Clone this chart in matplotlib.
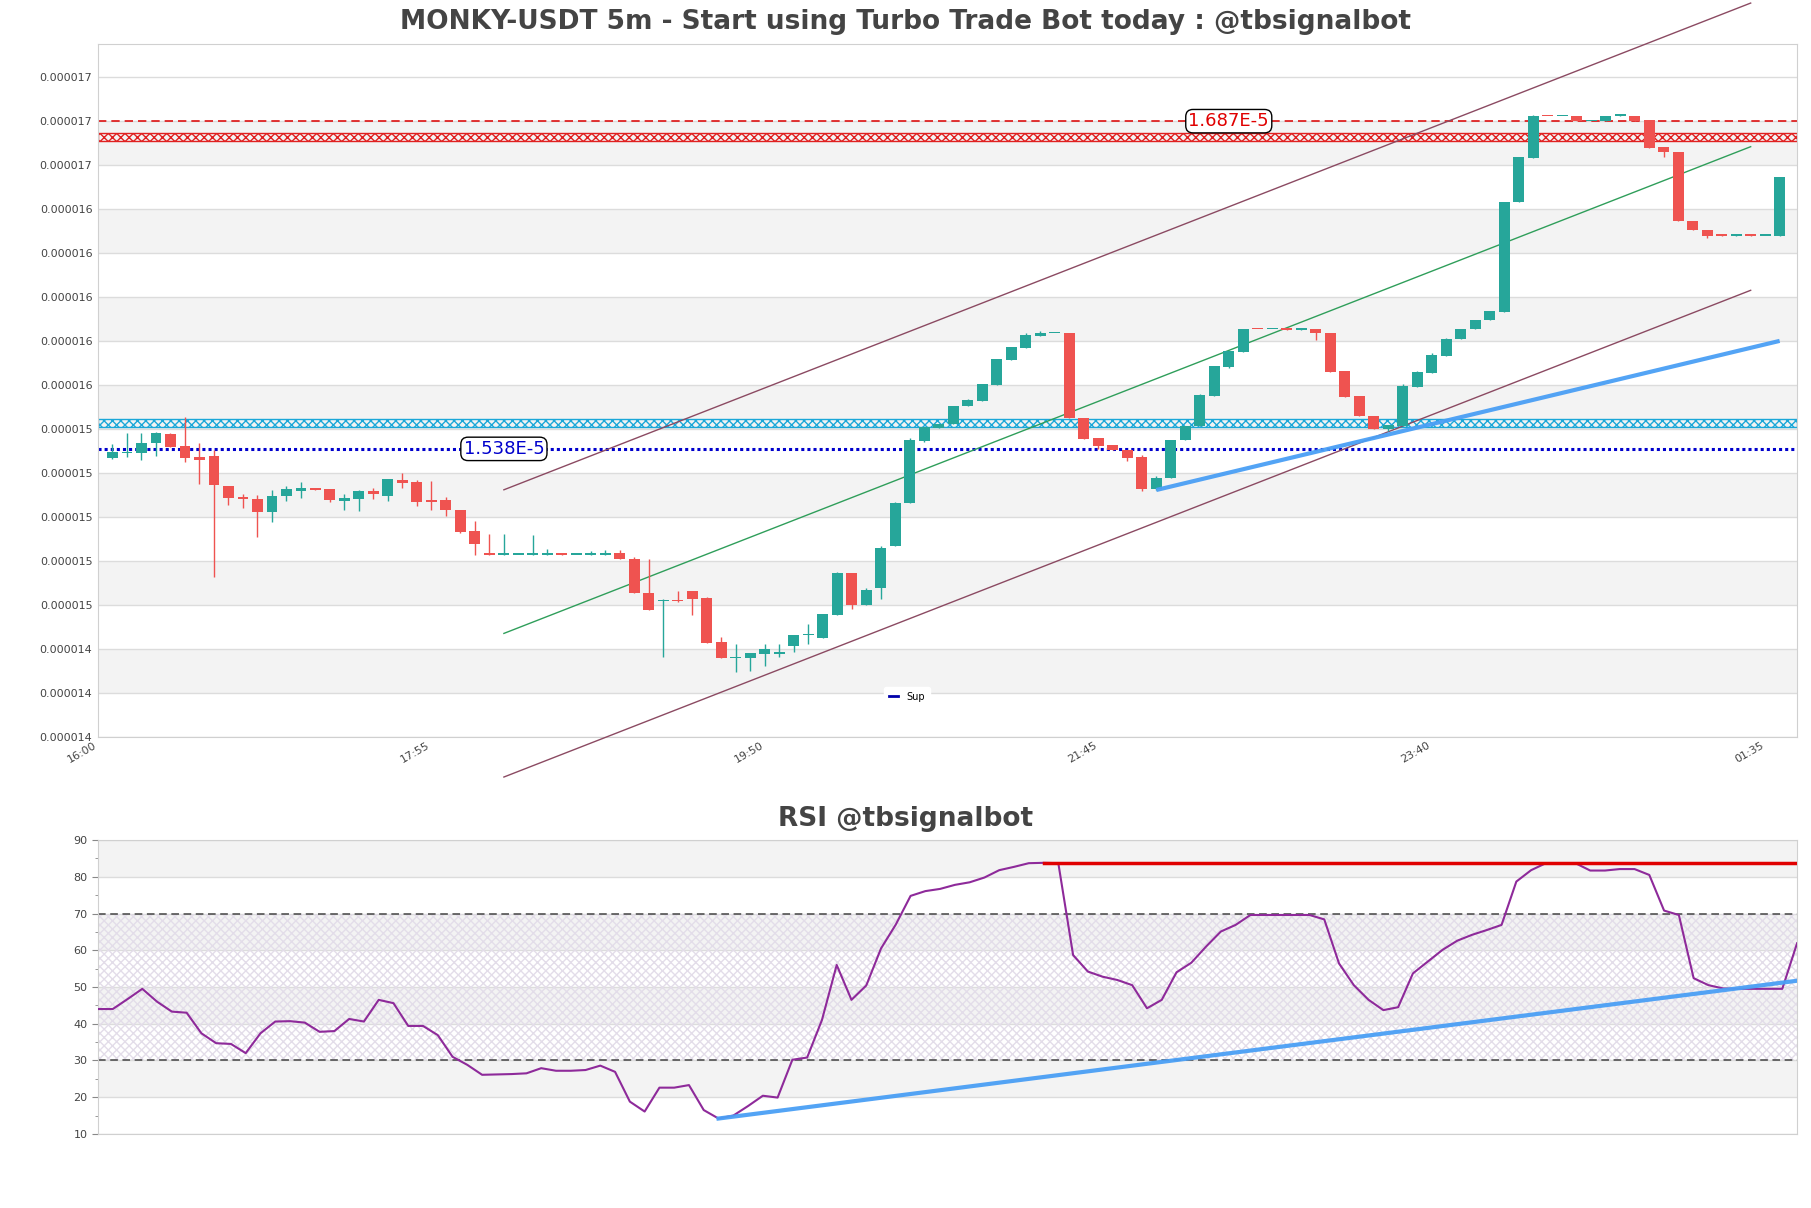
import numpy as np
import matplotlib
matplotlib.use('Agg')
import matplotlib.pyplot as plt
from matplotlib.lines import Line2D

# ローソク足データ (単位: 1e-5 USDT)
opens = [1.5339, 1.5360, 1.5361, 1.5409, 1.5446, 1.5392, 1.5342, 1.5346, 1.5210, 1.5160,
         1.5154, 1.5093, 1.5166, 1.5188, 1.5204, 1.5196, 1.5145, 1.5152, 1.5187, 1.5166,
         1.5240, 1.5228, 1.5146, 1.5146, 1.5104, 1.5005, 1.4901, 1.4899, 1.4899, 1.4899,
         1.4899, 1.4908, 1.4899, 1.4899, 1.4899, 1.4908, 1.4881, 1.4727, 1.4688, 1.4694,
         1.4733, 1.4702, 1.4500, 1.4429, 1.4430, 1.4447, 1.4447, 1.4483, 1.4533, 1.4520,
         1.4624, 1.4815, 1.4668, 1.4747, 1.4938, 1.5136, 1.5416, 1.5477, 1.5495, 1.5575,
         1.5598, 1.5669, 1.5783, 1.5839, 1.5895, 1.5905, 1.5907, 1.5522, 1.5430, 1.5396,
         1.5377, 1.5343, 1.5196, 1.5248, 1.5419, 1.5483, 1.5621, 1.5753, 1.5821, 1.5924,
         1.5923, 1.5923, 1.5922, 1.5923, 1.5905, 1.5733, 1.5619, 1.5530, 1.5472, 1.5483,
         1.5661, 1.5725, 1.5803, 1.5879, 1.5923, 1.5968, 1.6003, 1.6501, 1.6703, 1.6895,
         1.6894, 1.6895, 1.6871, 1.6871, 1.6895, 1.6895, 1.6877, 1.6751, 1.6728, 1.6417,
         1.6377, 1.6351, 1.6350, 1.6351, 1.6350, 1.6350]
highs = [1.5404, 1.5450, 1.5450, 1.5456, 1.5450, 1.5525, 1.5409, 1.5374, 1.5210, 1.5173,
         1.5169, 1.5192, 1.5210, 1.5229, 1.5204, 1.5196, 1.5177, 1.5192, 1.5204, 1.5242,
         1.5272, 1.5240, 1.5233, 1.5161, 1.5104, 1.5051, 1.4995, 1.4995, 1.4899, 1.4987,
         1.4926, 1.4908, 1.4899, 1.4916, 1.4922, 1.4919, 1.4888, 1.4881, 1.4699, 1.4732,
         1.4733, 1.4705, 1.4524, 1.4494, 1.4450, 1.4491, 1.4491, 1.4535, 1.4582, 1.4627,
         1.4820, 1.4815, 1.4749, 1.4938, 1.5138, 1.5430, 1.5480, 1.5495, 1.5577, 1.5606,
         1.5674, 1.5788, 1.5842, 1.5909, 1.5916, 1.5907, 1.5907, 1.5522, 1.5430, 1.5396,
         1.5377, 1.5351, 1.5255, 1.5422, 1.5486, 1.5628, 1.5756, 1.5825, 1.5924, 1.5924,
         1.5923, 1.5923, 1.5923, 1.5923, 1.5905, 1.5733, 1.5619, 1.5530, 1.5487, 1.5674,
         1.5734, 1.5814, 1.5883, 1.5923, 1.5968, 1.6007, 1.6501, 1.6705, 1.6898, 1.6895,
         1.6895, 1.6895, 1.6872, 1.6895, 1.6896, 1.6895, 1.6877, 1.6751, 1.6728, 1.6417,
         1.6377, 1.6351, 1.6351, 1.6351, 1.6350, 1.6614]
lows = [1.5335, 1.5343, 1.5331, 1.5348, 1.5389, 1.5320, 1.5222, 1.4797, 1.5123, 1.5111,
        1.4979, 1.5047, 1.5143, 1.5157, 1.5192, 1.5138, 1.5104, 1.5097, 1.5154, 1.5143,
        1.5202, 1.5120, 1.5104, 1.5075, 1.4997, 1.4899, 1.4899, 1.4899, 1.4899, 1.4899,
        1.4899, 1.4899, 1.4899, 1.4899, 1.4899, 1.4881, 1.4724, 1.4647, 1.4436, 1.4683,
        1.4623, 1.4497, 1.4429, 1.4365, 1.4369, 1.4392, 1.4433, 1.4456, 1.4491, 1.4520,
        1.4624, 1.4651, 1.4668, 1.4696, 1.4938, 1.5136, 1.5411, 1.5477, 1.5495, 1.5575,
        1.5598, 1.5669, 1.5783, 1.5839, 1.5895, 1.5905, 1.5521, 1.5427, 1.5381, 1.5377,
        1.5325, 1.5188, 1.5193, 1.5248, 1.5419, 1.5483, 1.5621, 1.5748, 1.5821, 1.5923,
        1.5923, 1.5922, 1.5922, 1.5877, 1.5730, 1.5616, 1.5530, 1.5472, 1.5461, 1.5483,
        1.5661, 1.5725, 1.5803, 1.5879, 1.5923, 1.5968, 1.6003, 1.6501, 1.6703, 1.6894,
        1.6894, 1.6871, 1.6871, 1.6871, 1.6895, 1.6871, 1.6749, 1.6705, 1.6417, 1.6373,
        1.6340, 1.6350, 1.6350, 1.6350, 1.6350, 1.6350]
closes = [1.5364, 1.5365, 1.5409, 1.5450, 1.5389, 1.5339, 1.5330, 1.5214, 1.5157, 1.5152,
          1.5093, 1.5164, 1.5199, 1.5204, 1.5192, 1.5149, 1.5155, 1.5187, 1.5175, 1.5242,
          1.5227, 1.5138, 1.5138, 1.5104, 1.5002, 1.4949, 1.4899, 1.4900, 1.4899, 1.4899,
          1.4908, 1.4899, 1.4899, 1.4899, 1.4908, 1.4881, 1.4724, 1.4647, 1.4694, 1.4688,
          1.4699, 1.4497, 1.4429, 1.4433, 1.4450, 1.4471, 1.4456, 1.4535, 1.4540, 1.4627,
          1.4815, 1.4668, 1.4737, 1.4931, 1.5134, 1.5419, 1.5480, 1.5495, 1.5577, 1.5601,
          1.5674, 1.5788, 1.5842, 1.5900, 1.5907, 1.5907, 1.5521, 1.5427, 1.5393, 1.5377,
          1.5340, 1.5196, 1.5249, 1.5422, 1.5486, 1.5624, 1.5756, 1.5825, 1.5924, 1.5923,
          1.5923, 1.5922, 1.5923, 1.5905, 1.5730, 1.5616, 1.5530, 1.5472, 1.5487, 1.5665,
          1.5730, 1.5806, 1.5879, 1.5923, 1.5968, 1.6007, 1.6501, 1.6705, 1.6895, 1.6894,
          1.6895, 1.6871, 1.6872, 1.6895, 1.6896, 1.6871, 1.6749, 1.6728, 1.6417, 1.6373,
          1.6350, 1.6350, 1.6351, 1.6350, 1.6350, 1.6614]

# RSI
rsi = [44.0, 44.0, 46.7, 49.5, 46.0, 43.3, 43.0, 37.4, 34.7, 34.5,
       32.0, 37.4, 40.6, 40.7, 40.3, 37.8, 38.0, 41.3, 40.6, 46.5,
       45.6, 39.4, 39.4, 36.9, 31.0, 28.8, 26.1, 26.2, 26.3, 26.5,
       27.9, 27.2, 27.2, 27.4, 28.6, 26.9, 18.8, 16.1, 22.6, 22.6,
       23.3, 16.5, 14.2, 15.0, 17.6, 20.4, 19.9, 30.2, 30.8, 41.0,
       56.0, 46.5, 50.4, 60.5, 67.0, 74.8, 76.1, 76.7, 77.8, 78.5,
       79.8, 81.8, 82.7, 83.7, 83.8, 83.7, 58.7, 54.2, 52.8, 51.9,
       50.5, 44.2, 46.5, 54.0, 56.6, 61.0, 65.1, 66.9, 69.6, 69.6,
       69.6, 69.6, 69.6, 68.4, 56.4, 50.5, 46.5, 43.7, 44.5, 53.7,
       56.9, 60.1, 62.6, 64.2, 65.5, 66.9, 78.7, 81.8, 83.7, 83.7,
       83.7, 81.7, 81.7, 82.1, 82.1, 80.5, 70.8, 69.6, 52.4, 50.5,
       49.6, 49.5, 49.5, 49.5, 49.5, 61.9]

time_ticks = [0, 23, 46, 69, 92, 115]
time_labels = ['16:00', '17:55', '19:50', '21:45', '23:40', '01:35']

# 水平線・ゾーン・トレンドライン (単位: 1e-5)
resist_level = 1.687
support_level = 1.538
red_zone = [1.6780, 1.6814]
cyan_zone = [1.5480, 1.5515]
channel_x = [28, 114]
channel_mid = [1.4541, 1.6754]
channel_width = 0.0653
sup_x = [73, 116]
sup_y = [1.5193, 1.5871]
rsi_sup_x = [42, 115]
rsi_sup_y = [14.2, 51.7]
rsi_res_x = [64, 115]
rsi_res = 83.7

scale = 1e-5
UP = '#26a69a'
DOWN = '#ef5350'
GRID = '#dcdcdc'
BAND = '#f3f3f3'

o = np.array(opens) * scale
h = np.array(highs) * scale
l = np.array(lows) * scale
c = np.array(closes) * scale
x = np.arange(len(o)) + 1

fig = plt.figure(figsize=(18.11, 12.08), dpi=100)

# 価格チャート
ax = fig.add_axes([0.0541, 0.3899, 0.9382, 0.5737])
yt = (1.407 + np.arange(16) * 0.02) * scale
for k in range(1, 15, 2):
    ax.axhspan(yt[k], yt[k + 1], color=BAND, lw=0, zorder=0)
ax.set_yticks(yt)
ax.set_yticklabels(['%.6f' % v for v in yt])
ax.set_ylim(1.407 * scale, 1.7221 * scale)
ax.set_xlim(0, 117.2)
ax.grid(axis='y', color=GRID, lw=1, zorder=0.5)
ax.set_axisbelow(True)

# ゾーン
ax.axhspan(red_zone[0] * scale, red_zone[1] * scale, facecolor='none',
           edgecolor='#e02020', hatch='xxxx', lw=1, zorder=1)
ax.axhspan(cyan_zone[0] * scale, cyan_zone[1] * scale, facecolor='none',
           edgecolor='#1aa7d8', hatch='xxxx', lw=1, zorder=1)

# 水平線
ax.axhline(resist_level * scale, color='#dd1111', ls=(0, (5, 3)), lw=1.2, zorder=2)
ax.axhline(support_level * scale, color='#0000cc', ls=(0, (1, 1)), lw=2.2, zorder=2, label='Sup')
ax.text(78, resist_level * scale, '%.3fE-5' % resist_level, color='#e00000', fontsize=13,
        ha='center', va='center', zorder=6,
        bbox=dict(boxstyle='round,pad=0.15,rounding_size=0.4', fc='white', ec='black', lw=1))
ax.text(28, support_level * scale, '%.3fE-5' % support_level, color='#0000cc', fontsize=13,
        ha='center', va='center', zorder=6,
        bbox=dict(boxstyle='round,pad=0.15,rounding_size=0.4', fc='white', ec='black', lw=1))

# チャネル
mid = np.array(channel_mid) * scale
ax.plot(channel_x, mid, color='#2f9e5a', lw=1, zorder=3)
ax.plot(channel_x, mid + channel_width * scale, color='#8b4a62', lw=1, zorder=3, clip_on=False)
ax.plot(channel_x, mid - channel_width * scale, color='#8b4a62', lw=1, zorder=3, clip_on=False)

# ローソク足
colors = [UP if cc >= oo else DOWN for oo, cc in zip(o, c)]
ax.vlines(x, l, h, colors=colors, lw=1, zorder=4)
body = np.maximum(np.abs(c - o), 0.0006 * scale)
ax.bar(x, body, bottom=np.minimum(o, c), width=0.75, color=colors, lw=0, zorder=4)

# サポートライン
ax.plot(sup_x, np.array(sup_y) * scale, color='#4a9ff5', lw=3, alpha=0.95, zorder=5,
        solid_capstyle='butt')

ax.set_xticks(time_ticks)
ax.set_xticklabels(time_labels, rotation=30, ha='right')
ax.tick_params(axis='both', length=0, labelsize=8, labelcolor='#444444', pad=4)
ax.tick_params(axis='x', pad=2)
for sp in ax.spines.values():
    sp.set_color('#d0d0d0')

ax.legend(handles=[Line2D([], [], color='#0000aa', lw=2)], labels=['Sup'],
          loc='center', bbox_to_anchor=(0.476, 0.058), fontsize=7, frameon=True,
          framealpha=1, edgecolor='white', handlelength=1.0, borderpad=0.5)

# RSI チャート
ax2 = fig.add_axes([0.0541, 0.0613, 0.9382, 0.2433])
xr = np.arange(len(rsi))
for lo in [20, 40, 60, 80]:
    ax2.axhspan(lo, lo + 10, color=BAND, lw=0, zorder=0)
ax2.fill_between([0, len(rsi) - 1], 30, 70, facecolor='none', edgecolor='#e3dde9',
                 hatch='xxxx', lw=0, zorder=0.6)
ax2.set_ylim(10, 90)
ax2.set_xlim(0, len(rsi) - 1)
ax2.set_yticks(range(10, 91, 10))
ax2.set_yticks(range(15, 90, 10), minor=True)
ax2.grid(axis='y', color=GRID, lw=1, zorder=0.5)
ax2.set_axisbelow(True)
ax2.axhline(70, color='#444444', ls=(0, (5, 3)), lw=1.1, zorder=2)
ax2.axhline(30, color='#444444', ls=(0, (5, 3)), lw=1.1, zorder=2)
ax2.plot(xr, rsi, color='#8e2a9a', lw=1.5, zorder=3)
ax2.plot(rsi_res_x, [rsi_res, rsi_res], color='#e00000', lw=2.5, zorder=4)
ax2.plot(rsi_sup_x, rsi_sup_y, color='#4a9ff5', lw=3, alpha=0.95, zorder=4)
ax2.set_xticks([])
ax2.tick_params(axis='y', which='major', length=4, labelsize=8, labelcolor='#444444', color='#888888')
ax2.tick_params(axis='y', which='minor', length=2, color='#888888')
for sp in ax2.spines.values():
    sp.set_color('#d0d0d0')

# タイトル
fig.text(0.5, 0.9818, 'MONKY-USDT 5m - Start using Turbo Trade Bot today : @tbsignalbot',
         ha='center', va='center', fontsize=19, fontweight='bold', color='#444444')
fig.text(0.5, 0.322, 'RSI @tbsignalbot', ha='center', va='center', fontsize=19,
         fontweight='bold', color='#444444')

fig.savefig('out.png', dpi=100)
